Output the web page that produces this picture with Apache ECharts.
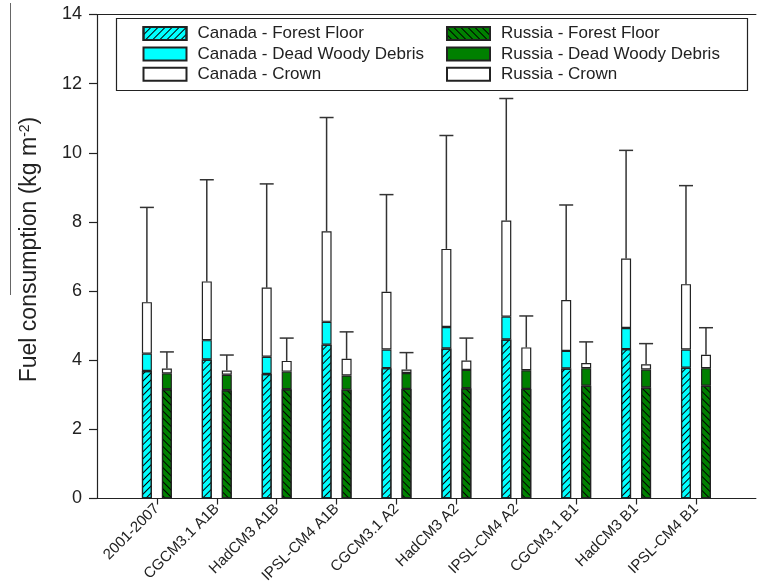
<!DOCTYPE html>
<html>
<head>
<meta charset="utf-8">
<script src="https://cdn.jsdelivr.net/npm/echarts@6/dist/echarts.min.js"></script>
<style>
html,body{margin:0;padding:0;background:#fff;}
#main{width:758px;height:588px;}
</style>
</head>
<body>
<div id="main"></div>
<script>
//分类
var categories = ['2001-2007','CGCM3.1 A1B','HadCM3 A1B','IPSL-CM4 A1B','CGCM3.1 A2','HadCM3 A2','IPSL-CM4 A2','CGCM3.1 B1','HadCM3 B1','IPSL-CM4 B1'];
//加拿大
var caForest = [3.69, 4.02, 3.60, 4.45, 3.77, 4.34, 4.60, 3.76, 4.32, 3.78];
var caDebris = [0.50, 0.56, 0.50, 0.66, 0.54, 0.62, 0.66, 0.51, 0.61, 0.53];
var caCrown  = [1.49, 1.70, 2.00, 2.62, 1.67, 2.26, 2.78, 1.47, 2.01, 1.89];
var caErr    = [2.74, 2.94, 3.00, 3.29, 2.81, 3.28, 3.53, 2.75, 3.13, 2.85];
//俄罗斯
var ruForest = [3.16, 3.13, 3.16, 3.15, 3.17, 3.19, 3.17, 3.26, 3.21, 3.26];
var ruDebris = [0.46, 0.45, 0.51, 0.41, 0.46, 0.53, 0.54, 0.51, 0.52, 0.51];
var ruCrown  = [0.14, 0.12, 0.31, 0.48, 0.10, 0.27, 0.66, 0.15, 0.15, 0.39];
var ruErr    = [0.48, 0.45, 0.66, 0.78, 0.49, 0.65, 0.91, 0.61, 0.60, 0.78];
var yTicks = [0, 2, 4, 6, 8, 10, 12, 14];

var font = "'Liberation Sans', Arial, sans-serif";
var ink = '#222';

// x轴两端各留一个空位 (-1 和 10)
function pad(arr){
	return ['-'].concat(arr, ['-']);
}
var xData = [''].concat(categories, ['']);

// 误差线数据 [类别序号, 柱顶, 误差上限]
function errData(a, b, c, e){
	var out = [];
	for(var i=0;i<a.length;i++){
		var top = a[i] + b[i] + c[i];
		out.push([i+1, top, top + e[i]]);
	}
	return out;
}

function errSeries(name, data, dx){
	return {
		name: name,
		type: 'custom',
		silent: true,
		data: data,
		renderItem: function(params, api){
			var p0 = api.coord([api.value(0), api.value(1)]);
			var p1 = api.coord([api.value(0), api.value(2)]);
			var x = p0[0] + dx;
			var style = {stroke: '#333', lineWidth: 1.5};
			return {
				type: 'group',
				children: [
					{type:'line', shape:{x1:x, y1:p0[1], x2:x, y2:p1[1]}, style:style},
					{type:'line', shape:{x1:x-7, y1:p1[1], x2:x+7, y2:p1[1]}, style:style}
				]
			};
		},
		z: 1
	};
}

function barSeries(name, stack, data, color, decal){
	var s = {
		name: name,
		type: 'bar',
		stack: stack,
		data: pad(data),
		barWidth: 10,
		barGap: '100%',
		itemStyle: {color: color, borderColor: ink, borderWidth: 1.2},
		z: 3
	};
	if(decal){
		s.itemStyle.decal = decal;
	}
	return s;
}

var hatchCa = {symbol:'rect', symbolSize:1, color:'#000', dashArrayX:[1,0], dashArrayY:[1,3.5], rotation: -Math.PI/4};
var hatchRu = {symbol:'rect', symbolSize:1, color:'#000', dashArrayX:[1,0], dashArrayY:[1,3.5], rotation: Math.PI/4};

function legendBox(names, left){
	return {
		data: names,
		orient: 'vertical', left: left, top: 25,
		padding: 0,
		itemWidth: 43, itemHeight: 13, itemGap: 3.4,
		icon: 'rect', selectedMode: false,
		textStyle: {fontSize: 17, color: ink, fontFamily: font, padding: [0,0,0,6]}
	};
}

var chart = echarts.init(document.getElementById('main'));
var option = {
	backgroundColor: '#fff',
	animation: false,
	textStyle: {fontFamily: font},
	grid: {left: 97, top: 14.5, width: 673, height: 484},
	legend: [
		legendBox(['Canada - Forest Floor','Canada - Dead Woody Debris','Canada - Crown'], 142.5),
		legendBox(['Russia - Forest Floor','Russia - Dead Woody Debris','Russia - Crown'], 446)
	],
	xAxis: [
		{
			type: 'category',
			data: xData,
			boundaryGap: false,
			axisLine: {lineStyle: {color: ink, width: 1.2}},
			axisTick: {
				length: 6,
				lineStyle: {color: ink, width: 1.2},
				interval: function(i){ return i > 0 && i < xData.length-1; }
			},
			axisLabel: {interval: 0, rotate: 45, fontSize: 15, color: ink, margin: 8, fontFamily: font},
			splitLine: {show: false}
		},
		{
			type: 'value', position: 'top', min: 0, max: 1,
			axisLine: {show: true, onZero: false, lineStyle: {color: ink, width: 1.2}},
			axisTick: {show: false}, axisLabel: {show: false}, splitLine: {show: false}
		}
	],
	yAxis: {
		type: 'value',
		min: yTicks[0], max: yTicks[yTicks.length-1], interval: 2,
		axisLine: {show: true, lineStyle: {color: ink, width: 1.2}},
		axisTick: {show: true, length: 8, lineStyle: {color: ink, width: 1.2}},
		axisLabel: {fontSize: 18, color: ink, margin: 15, fontFamily: font},
		splitLine: {show: false},
		name: '{a|Fuel consumption (kg m}{s|-2}{a|)}',
		nameLocation: 'middle',
		nameGap: 55,
		nameTextStyle: {
			padding: [0,0,0,14],
			rich: {
				a: {fontSize: 23, color: ink, fontFamily: font},
				s: {fontSize: 14, color: ink, fontFamily: font, verticalAlign: 'top', padding: [0,0,10,0]}
			}
		}
	},
	series: [
		barSeries('Canada - Forest Floor', 'ca', caForest, '#00FFFF', hatchCa),
		barSeries('Canada - Dead Woody Debris', 'ca', caDebris, '#00FFFF'),
		barSeries('Canada - Crown', 'ca', caCrown, '#FFFFFF'),
		barSeries('Russia - Forest Floor', 'ru', ruForest, '#008000', hatchRu),
		barSeries('Russia - Dead Woody Debris', 'ru', ruDebris, '#008000'),
		barSeries('Russia - Crown', 'ru', ruCrown, '#FFFFFF'),
		errSeries('Canada err', errData(caForest, caDebris, caCrown, caErr), -10),
		errSeries('Russia err', errData(ruForest, ruDebris, ruCrown, ruErr), 10)
	],
	graphic: [
		// 图例外框
		{type:'rect', shape:{x:116.5, y:18.5, width:631, height:72}, style:{fill:'none', stroke:ink, lineWidth:1.2}, z:1},
		// 左边的竖线
		{type:'line', shape:{x1:10.5, y1:3, x2:10.5, y2:295}, style:{stroke:'#666', lineWidth:1}}
	]
};
chart.setOption(option);
</script>
</body>
</html>
